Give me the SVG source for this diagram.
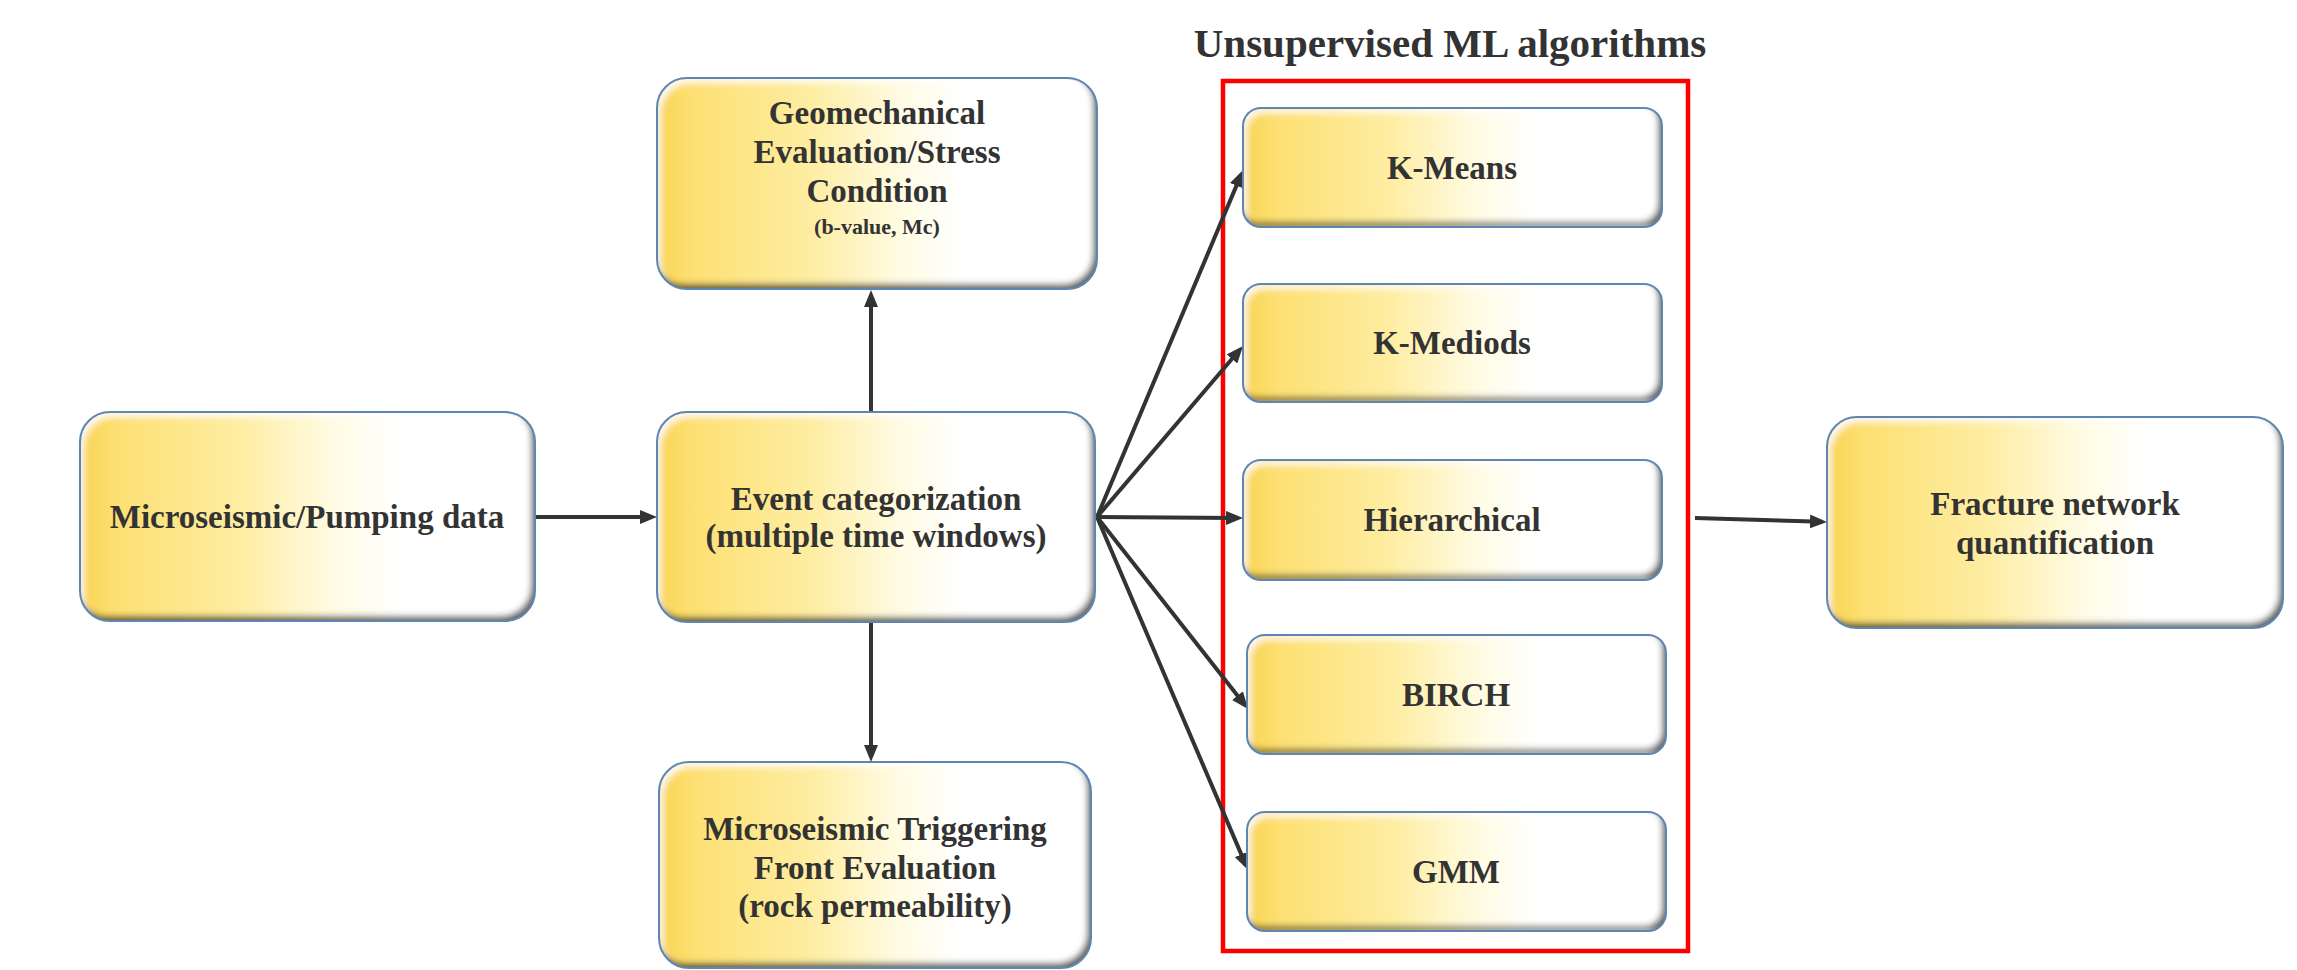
<svg xmlns="http://www.w3.org/2000/svg" width="2297" height="970" viewBox="0 0 2297 970">
  <style>
    .t { font-family: "Liberation Serif", "Times New Roman", serif; font-weight: bold; font-size: 33px; fill: #333333; text-anchor: middle; }
    .sub { font-size: 22px; }
    .title { font-size: 41px; }
    .fill { filter: url(#bevel); }
    .edge { fill: none; stroke: #5f86b3; stroke-width: 2; }
    .conn { fill: none; stroke: #333333; stroke-width: 4; marker-end: url(#arrow); }
  </style>
  <defs>
    <linearGradient id="gold" x1="0" y1="0" x2="1" y2="0">
      <stop offset="0" stop-color="#f9d452"/>
      <stop offset="0.08" stop-color="#fde073"/>
      <stop offset="0.35" stop-color="#feeda2"/>
      <stop offset="0.55" stop-color="#fffbe2"/>
      <stop offset="0.7" stop-color="#ffffff"/>
      <stop offset="1" stop-color="#ffffff"/>
    </linearGradient>
    <filter id="bevel" x="-5%" y="-5%" width="110%" height="110%">
      <feFlood flood-color="#2a2a2a" flood-opacity="0.9" result="dark"/>
      <feComposite in="dark" in2="SourceAlpha" operator="out" result="outside"/>
      <feOffset in="outside" dx="-4" dy="-5" result="off1"/>
      <feGaussianBlur in="off1" stdDeviation="3" result="blur1"/>
      <feComposite in="blur1" in2="SourceAlpha" operator="in" result="shadow"/>
      <feFlood flood-color="#ffffff" flood-opacity="0.8" result="light"/>
      <feComposite in="light" in2="SourceAlpha" operator="out" result="outside2"/>
      <feOffset in="outside2" dx="4" dy="5" result="off2"/>
      <feGaussianBlur in="off2" stdDeviation="3" result="blur2"/>
      <feComposite in="blur2" in2="SourceAlpha" operator="in" result="hl"/>
      <feMerge>
        <feMergeNode in="SourceGraphic"/>
        <feMergeNode in="hl"/>
        <feMergeNode in="shadow"/>
      </feMerge>
    </filter>
    <marker id="arrow" markerUnits="userSpaceOnUse" markerWidth="17" markerHeight="14" viewBox="0 0 17 14" refX="12" refY="7" orient="auto">
      <path d="M0,0 L17,7 L0,14 z" fill="#333333"/>
    </marker>
  </defs>

  <rect width="2297" height="970" fill="#ffffff"/>

  <g id="title">
    <text class="t title" x="1450" y="57">Unsupervised ML algorithms</text>
  </g>

  <g id="ml-group">
    <rect x="1223" y="81" width="465" height="870" fill="none" stroke="#ff0000" stroke-width="4.5"/>
  </g>

  <g id="connectors">
    <path class="conn" d="M535,517 L652,517"/>
    <path class="conn" d="M871,412 L871,295"/>
    <path class="conn" d="M871,622 L871,757"/>
    <path class="conn" d="M1097,517 L1241.1,174.6"/>
    <path class="conn" d="M1097,517 L1239.8,349.8"/>
    <path class="conn" d="M1097,517 L1238,518"/>
    <path class="conn" d="M1097,517 L1244.9,705.1"/>
    <path class="conn" d="M1097,517 L1246,865.4"/>
    <path class="conn" d="M1695,518 L1822,521.8"/>
  </g>

  <g id="node-data">
    <rect class="fill" x="80" y="412" width="455" height="209" rx="30" fill="url(#gold)"/>
    <rect class="edge" x="80" y="412" width="455" height="209" rx="30"/>
    <text class="t" x="307" y="528">Microseismic/Pumping data</text>
  </g>

  <g id="node-geomech">
    <rect class="fill" x="657" y="78" width="440" height="211" rx="30" fill="url(#gold)"/>
    <rect class="edge" x="657" y="78" width="440" height="211" rx="30"/>
    <text class="t" x="877" y="124">Geomechanical</text>
    <text class="t" x="877" y="163">Evaluation/Stress</text>
    <text class="t" x="877" y="202">Condition</text>
    <text class="t sub" x="877" y="234">(b-value, Mc)</text>
  </g>

  <g id="node-event">
    <rect class="fill" x="657" y="412" width="438" height="210" rx="30" fill="url(#gold)"/>
    <rect class="edge" x="657" y="412" width="438" height="210" rx="30"/>
    <text class="t" x="876" y="510">Event categorization</text>
    <text class="t" x="876" y="547">(multiple time windows)</text>
  </g>

  <g id="node-trigger">
    <rect class="fill" x="659" y="762" width="432" height="206" rx="30" fill="url(#gold)"/>
    <rect class="edge" x="659" y="762" width="432" height="206" rx="30"/>
    <text class="t" x="875" y="840">Microseismic Triggering</text>
    <text class="t" x="875" y="879">Front Evaluation</text>
    <text class="t" x="875" y="917">(rock permeability)</text>
  </g>

  <g id="node-fracture">
    <rect class="fill" x="1827" y="417" width="456" height="211" rx="30" fill="url(#gold)"/>
    <rect class="edge" x="1827" y="417" width="456" height="211" rx="30"/>
    <text class="t" x="2055" y="515">Fracture network</text>
    <text class="t" x="2055" y="554">quantification</text>
  </g>

  <g id="node-kmeans">
    <rect class="fill" x="1243" y="108" width="419" height="119" rx="18" fill="url(#gold)"/>
    <rect class="edge" x="1243" y="108" width="419" height="119" rx="18"/>
    <text class="t" x="1452" y="179">K-Means</text>
  </g>

  <g id="node-kmediods">
    <rect class="fill" x="1243" y="284" width="419" height="118" rx="18" fill="url(#gold)"/>
    <rect class="edge" x="1243" y="284" width="419" height="118" rx="18"/>
    <text class="t" x="1452" y="354">K-Mediods</text>
  </g>

  <g id="node-hierarchical">
    <rect class="fill" x="1243" y="460" width="419" height="120" rx="18" fill="url(#gold)"/>
    <rect class="edge" x="1243" y="460" width="419" height="120" rx="18"/>
    <text class="t" x="1452" y="531">Hierarchical</text>
  </g>

  <g id="node-birch">
    <rect class="fill" x="1247" y="635" width="419" height="119" rx="18" fill="url(#gold)"/>
    <rect class="edge" x="1247" y="635" width="419" height="119" rx="18"/>
    <text class="t" x="1456" y="706">BIRCH</text>
  </g>

  <g id="node-gmm">
    <rect class="fill" x="1247" y="812" width="419" height="119" rx="18" fill="url(#gold)"/>
    <rect class="edge" x="1247" y="812" width="419" height="119" rx="18"/>
    <text class="t" x="1456" y="883">GMM</text>
  </g>
</svg>
